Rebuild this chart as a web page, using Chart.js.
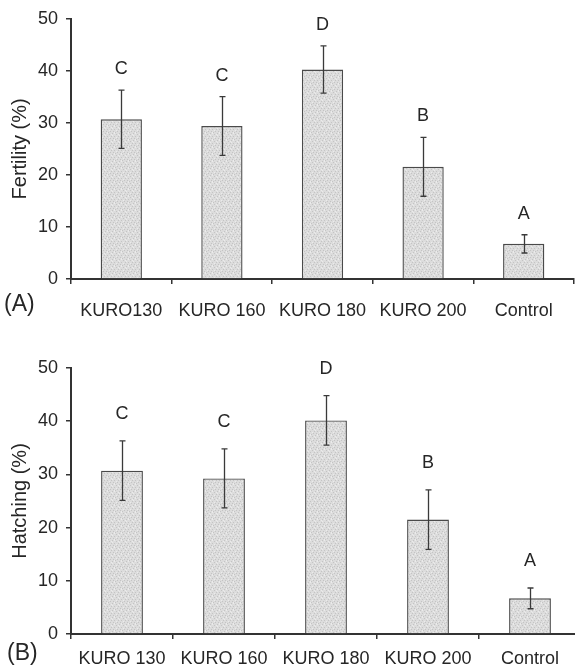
<!DOCTYPE html>
<html>
<head>
<meta charset="utf-8">
<script src="https://cdn.jsdelivr.net/npm/chart.js@4"></script>
<style>
  html, body { margin: 0; padding: 0; background: #fff; overflow: hidden; }
  #wrap { position: relative; width: 575px; height: 671px; overflow: hidden; background: #fff; }
  #wrap canvas { position: absolute; left: 0; }
</style>
</head>
<body>
<div id="wrap">
  <canvas id="fertChart" width="575" height="330" style="top:0"></canvas>
  <canvas id="hatchChart" width="584" height="341" style="top:330px"></canvas>
</div>
<script>
// Treatment groups (labels as printed under each panel)
const fertilityGroups = ['KURO130', 'KURO 160', 'KURO 180', 'KURO 200', 'Control'];
const hatchingGroups  = ['KURO 130', 'KURO 160', 'KURO 180', 'KURO 200', 'Control'];

// Means and error (± half-length of the error bar), in %
const fertilityMean = [30.7, 29.4, 40.25, 21.55, 6.75];
const fertilityErr  = [5.6, 5.65, 4.55, 5.65, 1.75];
const hatchingMean  = [30.7, 29.25, 40.15, 21.5, 6.7];
const hatchingErr   = [5.6, 5.55, 4.65, 5.6, 1.95];

// Significance groupings shown above the bars
const groupLetters = ['C', 'C', 'D', 'B', 'A'];

// Value axis
const yMin = 0, yMax = 50, yStep = 10;

const FONT = '"Liberation Sans", Arial, Helvetica, sans-serif';
const INK = '#262626';

// Light grey stipple used to fill the bars (fixed 7x7 dot layout)
function stipple() {
  const c = document.createElement('canvas');
  c.width = 7; c.height = 7;
  const g = c.getContext('2d');
  g.fillStyle = '#dcdcdc';
  g.fillRect(0, 0, 7, 7);
  g.fillStyle = '#c4c4c4';
  [[0, 0], [4, 1], [2, 3], [6, 3], [1, 5], [5, 5], [3, 6]].forEach(([x, y]) => g.fillRect(x, y, 1, 1));
  g.fillStyle = '#ebebeb';
  [[2, 0], [6, 1], [0, 2], [4, 4], [2, 6]].forEach(([x, y]) => g.fillRect(x, y, 1, 1));
  return g.createPattern(c, 'repeat');
}

// Draws error bars, letters and the panel tag
const annotate = {
  id: 'annotate',
  afterDatasetsDraw(chart, args, opts) {
    const { ctx } = chart;
    const y = chart.scales.y;
    const meta = chart.getDatasetMeta(0);
    ctx.save();
    ctx.strokeStyle = '#3a3a3a';
    ctx.lineWidth = 1.3;
    ctx.fillStyle = INK;
    ctx.font = '18px ' + FONT;
    ctx.textAlign = 'center';
    ctx.textBaseline = 'bottom';
    meta.data.forEach((bar, i) => {
      const m = opts.mean[i], e = opts.err[i];
      const yt = y.getPixelForValue(m + e);
      const yb = y.getPixelForValue(m - e);
      const x = Math.round(bar.x) + 0.5;
      ctx.beginPath();
      ctx.moveTo(x, yt); ctx.lineTo(x, yb);
      ctx.moveTo(x - 3, yt); ctx.lineTo(x + 3, yt);
      ctx.moveTo(x - 3, yb); ctx.lineTo(x + 3, yb);
      ctx.stroke();
      ctx.fillText(opts.letters[i], bar.x, yt - opts.gap);
    });
    ctx.font = '23px ' + FONT;
    ctx.textAlign = 'left';
    ctx.textBaseline = 'middle';
    ctx.fillText(opts.tag, opts.tagX, opts.tagY);
    ctx.restore();
  }
};

function makePanel(canvasId, groups, mean, err, title, o) {
  return new Chart(document.getElementById(canvasId), {
    type: 'bar',
    data: {
      labels: groups,
      datasets: [{
        data: mean,
        backgroundColor: stipple(),
        borderColor: '#4a4a4a',
        borderWidth: 1.4,
        borderSkipped: 'bottom',
        categoryPercentage: 1,
        barPercentage: 0.41
      }]
    },
    options: {
      responsive: false,
      animation: false,
      events: [],
      layout: { padding: { top: o.padTop, right: o.padRight, left: 0, bottom: 0 } },
      plugins: {
        legend: { display: false },
        tooltip: { enabled: false },
        annotate: { mean, err, letters: groupLetters, gap: o.gap, tag: o.tag, tagX: o.tagX, tagY: o.tagY }
      },
      scales: {
        x: {
          offset: true,
          grid: { display: true, drawOnChartArea: false, drawTicks: true, tickLength: 5, color: '#333', lineWidth: 1.5, offset: true },
          border: { display: true, color: '#333', width: 2 },
          ticks: { color: INK, font: { family: FONT, size: 18 }, padding: o.xPad, maxRotation: 0, autoSkip: false },
          afterFit(s) { s.height = o.xHeight; }
        },
        y: {
          min: yMin, max: yMax,
          grid: { display: true, drawOnChartArea: false, drawTicks: true, tickLength: 5, color: '#333', lineWidth: 1.5 },
          border: { display: true, color: '#333', width: 2 },
          ticks: { stepSize: yStep, color: INK, font: { family: FONT, size: 18 }, padding: 8 },
          title: { display: true, text: title, color: INK, font: { family: FONT, size: 20 }, padding: { top: 8, bottom: 0 } },
          afterFit(s) { s.width = 71; }
        }
      }
    },
    plugins: [annotate]
  });
}

makePanel('fertChart', fertilityGroups, fertilityMean, fertilityErr, 'Fertility (%)',
  { padTop: 14, padRight: 1, xHeight: 51, xPad: 16, gap: 12, tag: '(A)', tagX: 4, tagY: 305 });
makePanel('hatchChart', hatchingGroups, hatchingMean, hatchingErr, 'Hatching (%)',
  { padTop: 38, padRight: 3, xHeight: 37, xPad: 9, gap: 18, tag: '(B)', tagX: 7, tagY: 324 });
</script>
</body>
</html>
